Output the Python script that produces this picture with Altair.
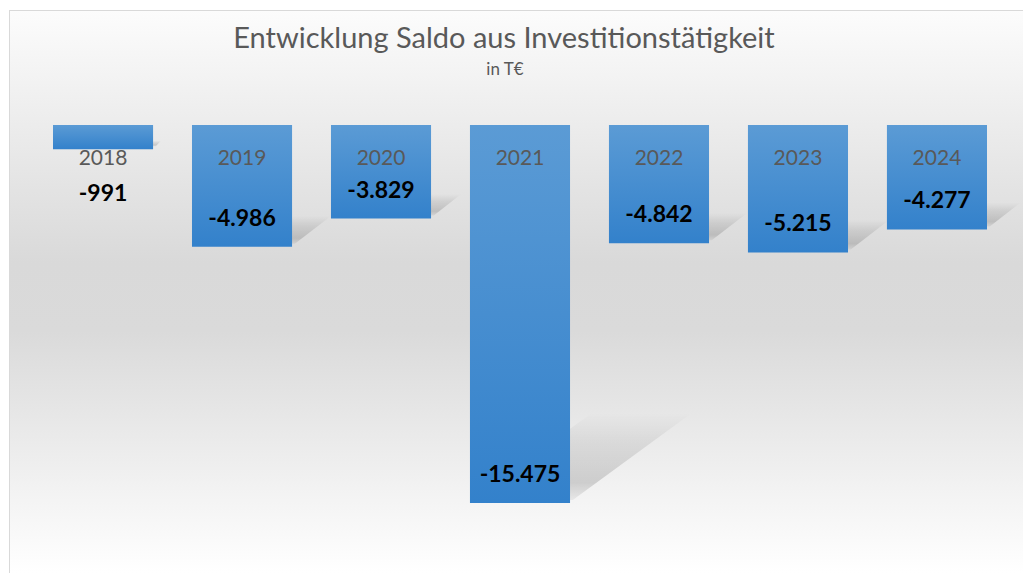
import altair as alt
import pandas as pd

years = ["2018", "2019", "2020", "2021", "2022", "2023", "2024"]
values = [-991, -4986, -3829, -15475, -4842, -5215, -4277]

title_text = "Entwicklung Saldo aus Investitionstätigkeit"
subtitle_text = "in T€"

df = pd.DataFrame({"year": years, "value": values})
one = pd.DataFrame({"a": [1]})

W, H = 1014, 563
PAD_IN = 0.28
BAND = 1 - PAD_IN
PX_PER_UNIT = 0.024427
STEP_PX = 139.0

# shadow polygons (style derived from the values)
rows = []
for i, (yr, v) in enumerate(zip(years, values)):
    h = abs(v)
    sh = 0.23 * h
    shift = 1.4 * sh * PX_PER_UNIT / STEP_PX
    lift = 3 / PX_PER_UNIT
    rows.append({"year": yr, "sy": v + lift, "sx": i + 0.02, "sx2": i + BAND + 0.02})
    rows.append({"year": yr, "sy": v + lift + sh, "sx": i + shift, "sx2": i + BAND + shift})
shadow_df = pd.DataFrame(rows)

x_enc = alt.X("year:N", sort=years, axis=None,
              scale=alt.Scale(domain=years, range=[44, 978], paddingInner=PAD_IN, paddingOuter=0))
y_scale = alt.Scale(domain=[-18340, 4708], nice=False, zero=False)

base = alt.Chart(df)

bg = alt.Chart(one).mark_rect(
    color=alt.Gradient(
        gradient="linear", x1=0, y1=0, x2=0, y2=1,
        stops=[alt.GradientStop(offset=0, color="#fcfcfc"),
               alt.GradientStop(offset=0.45, color="#d9d9d9"),
               alt.GradientStop(offset=0.57, color="#dadada"),
               alt.GradientStop(offset=1, color="#ffffff")],
    )
).encode(x=alt.value(0), x2=alt.value(W), y=alt.value(0), y2=alt.value(H))

top_border = alt.Chart(one).mark_rule(color="#d9d9d9", strokeWidth=1).encode(
    x=alt.value(0), x2=alt.value(W), y=alt.value(0.5))
left_border = alt.Chart(one).mark_rule(color="#d9d9d9", strokeWidth=1).encode(
    x=alt.value(0.5), y=alt.value(0), y2=alt.value(H))

shadow = alt.Chart(shadow_df).mark_area(
    orient="horizontal",
    color=alt.Gradient(
        gradient="linear", x1=0, y1=0, x2=0, y2=1,
        stops=[alt.GradientStop(offset=0, color="rgba(0,0,0,0.0)"),
               alt.GradientStop(offset=0.35, color="rgba(0,0,0,0.08)"),
               alt.GradientStop(offset=0.8, color="rgba(0,0,0,0.15)"),
               alt.GradientStop(offset=1, color="rgba(0,0,0,0.05)")],
    ),
).encode(
    y=alt.Y("sy:Q", scale=y_scale, axis=None),
    x=alt.X("sx:Q", axis=None, scale=alt.Scale(domain=[0, 7 - PAD_IN], range=[44, 978], nice=False, zero=False)),
    x2="sx2:Q",
    detail="year:N",
)

bars = base.mark_bar(
    color=alt.Gradient(
        gradient="linear", x1=0, y1=0, x2=0, y2=1,
        stops=[alt.GradientStop(offset=0, color="#5b9bd5"),
               alt.GradientStop(offset=1, color="#3381cb")],
    )
).encode(x=x_enc, y=alt.Y("value:Q", scale=y_scale, axis=None), y2=alt.datum(0))

cats = base.transform_calculate(zero="0").mark_text(
    font="Lato", fontSize=21, color="#595959", baseline="middle", dy=34
).encode(x=x_enc, y=alt.Y("zero:Q", scale=y_scale, axis=None), text="year:N")

lab_expr = "(datum.value < 0 ? '-' : '') + replace(format(abs(datum.value), ','), ',', '.')"
val_in = base.transform_filter("datum.value < -2000").transform_calculate(lab=lab_expr).mark_text(
    font="Lato", fontSize=23, fontWeight="bold", color="#000000", baseline="middle", dy=-28
).encode(x=x_enc, y=alt.Y("value:Q", scale=y_scale, axis=None), text="lab:N")

val_out = base.transform_filter("datum.value >= -2000").transform_calculate(lab=lab_expr).mark_text(
    font="Lato", fontSize=23, fontWeight="bold", color="#000000", baseline="middle", dy=45
).encode(x=x_enc, y=alt.Y("value:Q", scale=y_scale, axis=None), text="lab:N")

title = alt.Chart(pd.DataFrame({"t": [title_text]})).mark_text(
    font="Lato", fontSize=29, color="#595959", baseline="middle", align="center"
).encode(x=alt.value(495), y=alt.value(29), text="t:N")

subtitle = alt.Chart(pd.DataFrame({"t": [subtitle_text]})).mark_text(
    font="Lato", fontSize=17, color="#595959", baseline="middle", align="center"
).encode(x=alt.value(496), y=alt.value(60), text="t:N")

bar_group = alt.layer(bars, cats, val_in, val_out)

chart = alt.layer(bg, top_border, left_border, shadow, bar_group, title, subtitle).resolve_scale(
    x="independent"
).properties(
    width=W, height=H,
    autosize=alt.AutoSizeParams(type="none"),
    padding={"left": 1, "top": 2, "right": 0, "bottom": 0},
).configure_view(strokeWidth=0)

chart.save("out.html", embed_options={"renderer": "svg", "actions": False})
